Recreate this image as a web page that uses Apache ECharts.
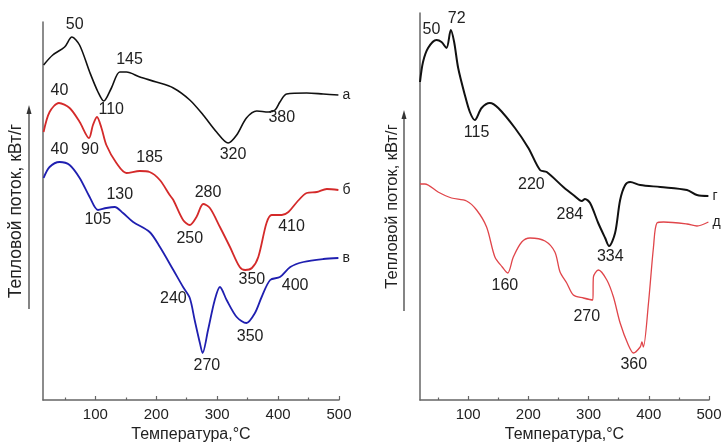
<!DOCTYPE html>
<html><head><meta charset="utf-8">
<script src="https://cdn.jsdelivr.net/npm/echarts@6/dist/echarts.min.js"></script>
<style>html,body{margin:0;padding:0;background:#fff}#c{width:722px;height:444px}</style>
</head><body><div id="c"></div>
<script>
// Left panel curves: [temperature °C, heat flow (arb. units)]
const curveA = [[15,335],[30,345],[49.5,353],[61.5,363],[74,355],[90.6,328],[104.3,308],[113.7,299],[126.3,312],[140,328],[151,328],[173,323],[200,318],[228,312],[255,300],[277,285],[299,268],[318,257],[332,265],[348,282],[365,289],[384,288],[395,290],[403,298],[414,306],[447,307],[474,306],[499,305]];
const curveB = [[15,268],[24.8,288],[40.1,297],[57.7,292],[74.2,278],[89.5,262],[96,275],[102.6,283],[110,272],[118,255],[134.5,237],[151,227],[173,229],[189,228],[205.8,220],[222,205],[228,200],[244,180],[255,175],[266,183],[277,196],[288,192],[304.5,173],[321,153],[337,133],[346,130],[357,132],[367.5,143],[381,177],[389.5,185],[406,185],[417,188],[431,198],[447,207],[463.5,208],[480,211],[499,210]];
const curveC = [[15,222],[24.8,233],[41.3,238],[57.7,235],[74.2,222],[90.6,203],[104.3,190],[118,192],[131.7,193],[145.4,187],[162,178],[189,168],[206,153],[228,130],[244,113],[255,102],[263,80],[271.6,57],[276,47],[285,70],[296,100],[304.5,113],[315.5,100],[332,83],[348,77],[362,87],[373,103],[387,120],[403,123],[420,133],[441.5,138],[474,141],[499,142]];
// Right panel curves
const curveD = [[20,318],[25,338],[33.4,352],[47.4,360],[55.7,358],[64,352],[71.2,370],[76.7,358],[83.4,332],[94.5,305],[102.8,288],[111,280],[122.3,292],[136,297],[150,292],[177.7,272],[200,252],[219.3,230],[230.5,228],[258,213],[274.7,205],[288.7,199],[294,201],[302.5,197],[316,177],[327.5,162],[334,154],[344,167],[352.4,200],[360.8,215],[369,218],[385.7,215],[419,213],[463.4,210],[480,205],[499,204]];
const curveE = [[20,216],[28,216],[50,208],[72.4,202],[97.3,199],[114,190],[130.6,173],[144.4,143],[156.6,133],[165.6,127],[175,143],[189,158],[202.7,162],[227.6,159],[244,148],[252.6,128],[263.7,117],[274.7,105],[291.4,102],[307,100],[308,123],[316.3,130],[330.3,120],[341.3,103],[352.4,77],[366,55],[374.6,47],[385.7,53],[388.6,58],[391,53],[399.5,97],[407.8,153],[413.5,177],[424.5,178],[463.4,176],[480,174],[499,178]];

// Peak annotations: [text, temperature, heat flow]
const labelsA = [['50',66,375],['145',156,340],['110',126,290],['320',326,245],['380',406,282]];
const labelsB = [['40',41,309],['90',91,250],['185',189,242],['250',255,161],['280',285,207],['350',357,120],['410',422,173]];
const labelsC = [['40',41,250],['105',104,180],['130',140,205],['240',228,101],['270',283,34],['350',354,63],['400',428,114]];
const labelsD = [['50',39,370],['72',81,381],['115',114,267],['220',205,215],['284',269,185],['334',336,143]];
const labelsE = [['160',161,114],['270',297,83],['360',375,35]];

const curveNames = ['а','б','в','г','д'];
const majorTicks = [100,200,300,400,500];
const minorTicks = [50,150,250,350,450];
const xTitle = 'Температура,°C';
const yTitle = 'Тепловой поток, кВт/г';

const FONT = 'Liberation Sans, Arial, sans-serif';
const TXT = '#222';
const AX = '#666';

function mp(list){
  return {
    symbol:'circle', symbolSize:0, silent:true, animation:false,
    label:{show:true, position:'inside', formatter:'{b}', color:TXT, fontSize:16, fontFamily:FONT},
    data:list.map(l=>({name:l[0], coord:[l[1],l[2]]}))
  };
}
function xAxes(grid, min){
  return [{
    type:'value', gridIndex:grid, min:min, max:500, position:'bottom',
    axisLine:{show:true, onZero:false, lineStyle:{color:AX, width:1.5}},
    axisTick:{show:true, inside:true, length:4, customValues:majorTicks, lineStyle:{color:AX, width:1.2}},
    axisLabel:{show:true, customValues:majorTicks, color:TXT, fontSize:15, margin:7, fontFamily:FONT},
    splitLine:{show:false},
    name:xTitle, nameLocation:'middle', nameGap:25,
    nameTextStyle:{color:TXT, fontSize:16, fontFamily:FONT}
  },{
    type:'value', gridIndex:grid, min:min, max:500, position:'bottom',
    axisLine:{show:false, onZero:false},
    axisTick:{show:true, inside:true, length:2.5, customValues:minorTicks, lineStyle:{color:AX, width:1.2}},
    axisLabel:{show:false}, splitLine:{show:false}
  }];
}
function yAxis(grid, max, gap, fs){
  return {
    type:'value', gridIndex:grid, min:0, max:max,
    axisLine:{show:true, lineStyle:{color:AX, width:1.5}},
    axisTick:{show:false}, axisLabel:{show:false}, splitLine:{show:false},
    name:yTitle, nameLocation:'middle', nameRotate:90, nameGap:gap,
    nameTextStyle:{color:TXT, fontSize:fs, fontFamily:FONT}
  };
}
function line(data, xi, yi, color, width, nm, labels){
  return {
    type:'line', xAxisIndex:xi, yAxisIndex:yi, data:data, showSymbol:false, smooth:0.3,
    lineStyle:{color:color, width:width}, silent:true,
    endLabel:{show:true, formatter:nm, color:TXT, fontSize:14, distance:4, fontFamily:FONT},
    markPoint:mp(labels)
  };
}

const chart = echarts.init(document.getElementById('c'));
chart.setOption({
  animation:false,
  backgroundColor:'#fff',
  textStyle:{fontFamily:FONT},
  grid:[
    {left:43, top:22, width:296, height:378, outerBoundsMode:'none', containLabel:false},
    {left:420, top:13, width:289, height:387, outerBoundsMode:'none', containLabel:false}
  ],
  xAxis:[...xAxes(0,14), ...xAxes(1,20)],
  yAxis:[yAxis(0,378,18,17.5), yAxis(1,387,19,16.5)],
  series:[
    line(curveA,0,0,'#111',1.6,curveNames[0],labelsA),
    line(curveB,0,0,'#d42a2a',1.8,curveNames[1],labelsB),
    line(curveC,0,0,'#1f1fb0',1.8,curveNames[2],labelsC),
    line(curveD,2,1,'#111',2,curveNames[3],labelsD),
    line(curveE,2,1,'#e0454a',1.3,curveNames[4],labelsE)
  ],
  graphic:[
    {type:'line', shape:{x1:29,y1:309,x2:29,y2:112}, style:{stroke:'#333', lineWidth:1.2}},
    {type:'polygon', shape:{points:[[29,105],[26.5,114],[31.5,114]]}, style:{fill:'#333'}},
    {type:'line', shape:{x1:404,y1:311,x2:404,y2:117}, style:{stroke:'#333', lineWidth:1.2}},
    {type:'polygon', shape:{points:[[404,110],[401.5,119],[406.5,119]]}, style:{fill:'#333'}}
  ]
});
</script>
</body></html>
